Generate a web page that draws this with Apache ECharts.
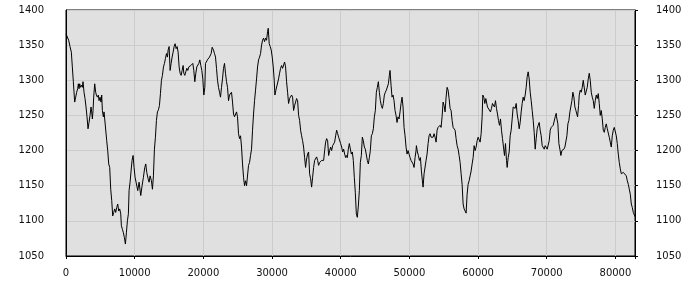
<!DOCTYPE html>
<html>
<head>
<meta charset="utf-8">
<script src="https://cdn.jsdelivr.net/npm/echarts@6/dist/echarts.min.js"></script>
<style>html,body{margin:0;padding:0;background:#fff}#c{width:700px;height:300px}</style>
</head>
<body>
<div id="c"></div>
<script>
const seg1 = [[0,1366],[194,1364],[389,1357],[583,1348],[778,1340],[923,1319],[1069,1298],[1263,1269],[1409,1276],[1555,1283],[1701,1288],[1798,1295],[1895,1288],[1992,1295],[2089,1290],[2235,1293],[2381,1290],[2478,1298],[2624,1283],[2770,1274],[2915,1262],[3061,1248],[3207,1231],[3353,1240],[3498,1250],[3644,1262],[3741,1255],[3839,1245],[3936,1257],[4033,1276],[4179,1295],[4324,1283],[4422,1279],[4567,1276],[4713,1279],[4810,1271],[4956,1276],[5102,1269],[5199,1279],[5296,1257],[5442,1248],[5539,1255],[5636,1245],[5782,1243],[5928,1214],[6073,1200],[6219,1181],[6365,1176],[6511,1145],[6657,1129],[6802,1107],[6948,1112],[7094,1117],[7240,1112],[7386,1119],[7531,1124],[7677,1114],[7823,1117],[7969,1110],[8066,1093],[8212,1088],[8357,1083],[8503,1076],[8649,1067],[8795,1083],[8941,1100],[9086,1110],[9184,1143],[9329,1155],[9475,1171],[9621,1186],[9767,1193],[9912,1176],[10058,1162]];
const seg2 = [[10204,1155],[10447,1143],[10641,1155],[10884,1136],[11079,1150],[11273,1162],[11467,1176],[11613,1181],[11759,1169],[11953,1160],[12099,1155],[12245,1164],[12439,1157],[12585,1145],[12731,1164],[12876,1202],[13022,1219],[13168,1243],[13314,1255],[13460,1258],[13605,1264],[13751,1281],[13897,1300],[14043,1307],[14188,1319],[14334,1324],[14480,1331],[14626,1338],[14771,1333],[14869,1343],[15014,1348],[15160,1314],[15306,1324],[15452,1333],[15597,1340],[15743,1348],[15889,1352],[16035,1345],[16181,1348],[16326,1340],[16472,1319],[16618,1310],[16764,1307],[16909,1314],[17055,1321],[17152,1310],[17298,1307],[17444,1312],[17590,1317],[17735,1314],[17881,1319],[18027,1317],[18173,1321],[18319,1319],[18464,1324],[18610,1314],[18756,1298],[18902,1310],[19047,1319],[19193,1317],[19339,1324],[19485,1329],[19630,1321],[19776,1314],[19922,1302],[20068,1279],[20214,1290],[20311,1324]];
const seg3 = [[20408,1326],[20651,1330],[20894,1333],[21137,1338],[21283,1347],[21477,1343],[21623,1338],[21769,1333],[21914,1317],[22060,1300],[22206,1290],[22352,1283],[22497,1276],[22643,1290],[22789,1302],[22935,1317],[23080,1324],[23226,1310],[23372,1298],[23518,1290],[23664,1271],[23809,1279],[23955,1279],[24101,1283],[24247,1269],[24392,1252],[24538,1248],[24684,1250],[24830,1255],[24975,1248],[25121,1224],[25267,1217],[25413,1221],[25559,1205],[25704,1181],[25850,1162],[25996,1150],[26142,1157],[26287,1150],[26433,1152],[26579,1179],[26725,1183],[26870,1193],[27016,1202],[27162,1229],[27308,1252],[27454,1271],[27599,1286],[27745,1302],[27891,1319],[28037,1329],[28182,1333],[28328,1338],[28474,1350],[28620,1357],[28765,1360],[28911,1355],[29057,1360],[29203,1357],[29349,1369],[29446,1374],[29592,1352],[29737,1348],[29883,1343],[30029,1333],[30175,1319],[30320,1300],[30417,1279],[30563,1286]];
const seg4 = [[30612,1288],[30806,1286],[30952,1302],[31098,1310],[31244,1317],[31389,1321],[31535,1317],[31681,1319],[31827,1326],[31973,1319],[32118,1298],[32264,1283],[32410,1267],[32556,1274],[32701,1276],[32847,1279],[32993,1276],[33139,1257],[33284,1264],[33430,1269],[33576,1274],[33722,1271],[33868,1250],[34013,1243],[34159,1229],[34305,1221],[34451,1214],[34596,1205],[34742,1190],[34888,1176],[35034,1188],[35179,1195],[35325,1198],[35471,1167],[35617,1160],[35763,1148],[35908,1162],[36054,1176],[36200,1186],[36346,1188],[36491,1191],[36637,1186],[36783,1179],[36929,1183],[37074,1181],[37220,1186],[37366,1188],[37512,1186],[37658,1200],[37803,1212],[37949,1217],[38095,1214],[38241,1193],[38386,1200],[38532,1205],[38678,1200],[38824,1207],[38969,1205],[39115,1212],[39261,1221],[39407,1229],[39553,1224],[39698,1219],[39844,1217],[39990,1210],[40136,1205],[40281,1198],[40427,1202],[40573,1195],[40719,1190]];
const seg5 = [[40816,1193],[40962,1190],[41108,1202],[41253,1210],[41399,1209],[41545,1195],[41691,1198],[41836,1186],[41982,1162],[42128,1140],[42274,1110],[42419,1105],[42565,1121],[42711,1143],[42857,1183],[43003,1193],[43148,1219],[43294,1214],[43440,1205],[43586,1202],[43731,1200],[43877,1186],[44023,1181],[44169,1190],[44314,1200],[44460,1221],[44606,1224],[44752,1231],[44898,1248],[45043,1257],[45189,1283],[45335,1290],[45481,1298],[45626,1283],[45772,1271],[45918,1264],[46064,1260],[46209,1267],[46355,1279],[46501,1283],[46647,1286],[46793,1288],[46938,1295],[47084,1307],[47181,1314],[47327,1293],[47473,1276],[47619,1279],[47764,1271],[47910,1257],[48056,1250],[48202,1240],[48347,1248],[48493,1245],[48639,1255],[48785,1267],[48931,1276],[49076,1262],[49222,1233],[49368,1221],[49514,1205],[49659,1195],[49805,1200],[49951,1195],[50097,1190],[50242,1186],[50388,1188],[50534,1181],[50680,1176],[50826,1190],[50971,1200]];
const seg6 = [[51020,1207],[51166,1198],[51312,1193],[51457,1186],[51603,1190],[51749,1171],[51895,1157],[51992,1148],[52138,1167],[52283,1169],[52429,1186],[52575,1195],[52721,1210],[52866,1221],[53012,1224],[53158,1219],[53304,1221],[53450,1219],[53595,1224],[53741,1219],[53887,1212],[54033,1229],[54178,1233],[54324,1231],[54470,1236],[54616,1233],[54761,1248],[54907,1269],[55053,1264],[55199,1255],[55345,1276],[55490,1290],[55636,1286],[55782,1274],[55928,1260],[56073,1257],[56219,1243],[56365,1233],[56511,1231],[56656,1229],[56802,1217],[56948,1207],[57094,1202],[57240,1193],[57385,1183],[57531,1167],[57677,1152],[57823,1124],[57968,1117],[58114,1114],[58260,1111],[58406,1138],[58551,1152],[58697,1157],[58843,1164],[58989,1171],[59135,1181],[59280,1190],[59426,1207],[59572,1200],[59718,1205],[59863,1214],[60009,1219],[60155,1217],[60301,1212],[60446,1224],[60592,1248],[60689,1279],[60835,1276],[60981,1267],[61127,1274]];
const seg7 = [[61223,1274],[61369,1262],[61515,1264],[61660,1260],[61806,1255],[61952,1260],[62098,1267],[62243,1269],[62389,1262],[62535,1271],[62681,1260],[62826,1252],[62972,1243],[63118,1236],[63264,1245],[63410,1229],[63555,1217],[63701,1205],[63847,1193],[63993,1210],[64138,1186],[64236,1176],[64381,1190],[64527,1198],[64673,1221],[64819,1229],[64964,1245],[65110,1262],[65256,1264],[65402,1260],[65548,1267],[65693,1252],[65839,1243],[65985,1231],[66131,1240],[66276,1255],[66422,1267],[66568,1276],[66714,1271],[66859,1279],[67005,1290],[67151,1305],[67297,1312],[67443,1302],[67588,1283],[67734,1271],[67880,1257],[68026,1243],[68171,1226],[68317,1202],[68463,1217],[68609,1231],[68754,1236],[68900,1240],[69046,1229],[69192,1221],[69338,1207],[69483,1205],[69629,1202],[69775,1207],[69921,1205],[70066,1202],[70212,1202],[70358,1214],[70504,1229],[70649,1233],[70795,1231],[70941,1236],[71087,1238],[71232,1248],[71378,1253]];
const seg8 = [[71427,1248],[71621,1238],[71767,1210],[71913,1202],[72059,1193],[72204,1200],[72350,1198],[72496,1202],[72642,1205],[72788,1205],[72933,1221],[73079,1238],[73225,1243],[73371,1255],[73516,1257],[73662,1271],[73808,1283],[73954,1276],[74099,1262],[74245,1257],[74391,1255],[74488,1248],[74634,1264],[74731,1279],[74877,1286],[75023,1283],[75168,1290],[75314,1300],[75460,1302],[75606,1279],[75751,1281],[75897,1290],[76043,1302],[76189,1310],[76335,1300],[76480,1283],[76626,1276],[76772,1271],[76918,1260],[77063,1271],[77209,1279],[77355,1274],[77501,1281],[77646,1267],[77792,1250],[77938,1257],[78084,1245],[78230,1229],[78375,1226],[78521,1233],[78667,1238],[78813,1231],[78958,1229],[79104,1219],[79250,1212],[79396,1205],[79541,1221],[79687,1229],[79833,1233],[79979,1231],[80125,1221],[80270,1210],[80416,1195],[80562,1183],[80708,1174],[80853,1167],[80999,1167],[81145,1169],[81291,1167],[81436,1169],[81582,1164],[81728,1157],[81874,1152],[82019,1145],[82165,1138],[82311,1124],[82457,1119],[82603,1112],[82748,1110],[82850,1106]];

const xMin = 0, xMax = 82850, xStep = 10000;
const yMin = 1050, yMax = 1400, yStep = 50;

const points = [].concat(seg1, seg2, seg3, seg4, seg5, seg6, seg7, seg8);

const labelFont = { fontFamily: 'DejaVu Sans', fontSize: 10, color: '#111' };

const chart = echarts.init(document.getElementById('c'), null, { renderer: 'canvas' });
chart.setOption({
  animation: false,
  backgroundColor: '#ffffff',
  grid: {
    left: 66, right: 65, top: 10, bottom: 44,
    show: true, backgroundColor: '#e0e0e0', borderColor: '#000', borderWidth: 1
  },
  xAxis: {
    type: 'value', min: xMin, max: xMax, interval: xStep,
    axisLine: { show: true, onZero: false, lineStyle: { color: '#000', width: 1 } },
    axisTick: { show: true, length: 3, lineStyle: { color: '#000' } },
    axisLabel: Object.assign({ margin: 12, formatter: v => (v % xStep === 0 ? String(v) : '') }, labelFont),
    splitLine: { show: true, lineStyle: { color: '#cccccc', width: 1 } }
  },
  yAxis: [
    {
      type: 'value', position: 'left', min: yMin, max: yMax, interval: yStep,
      axisLine: { show: true, lineStyle: { color: '#000' } },
      axisTick: { show: false },
      axisLabel: Object.assign({ margin: 22, formatter: v => String(v) }, labelFont),
      splitLine: { show: true, lineStyle: { color: '#cccccc', width: 1 } }
    },
    {
      type: 'value', position: 'right', min: yMin, max: yMax, interval: yStep,
      axisLine: { show: true, lineStyle: { color: '#000' } },
      axisTick: { show: true, length: 3, lineStyle: { color: '#000' } },
      axisLabel: Object.assign({ margin: 21, formatter: v => String(v) }, labelFont),
      splitLine: { show: false }
    }
  ],
  series: [{
    type: 'line', data: points, yAxisIndex: 0,
    showSymbol: false, symbol: 'none',
    lineStyle: { color: '#000', width: 1 },
    silent: true
  }]
});
</script>
</body>
</html>
